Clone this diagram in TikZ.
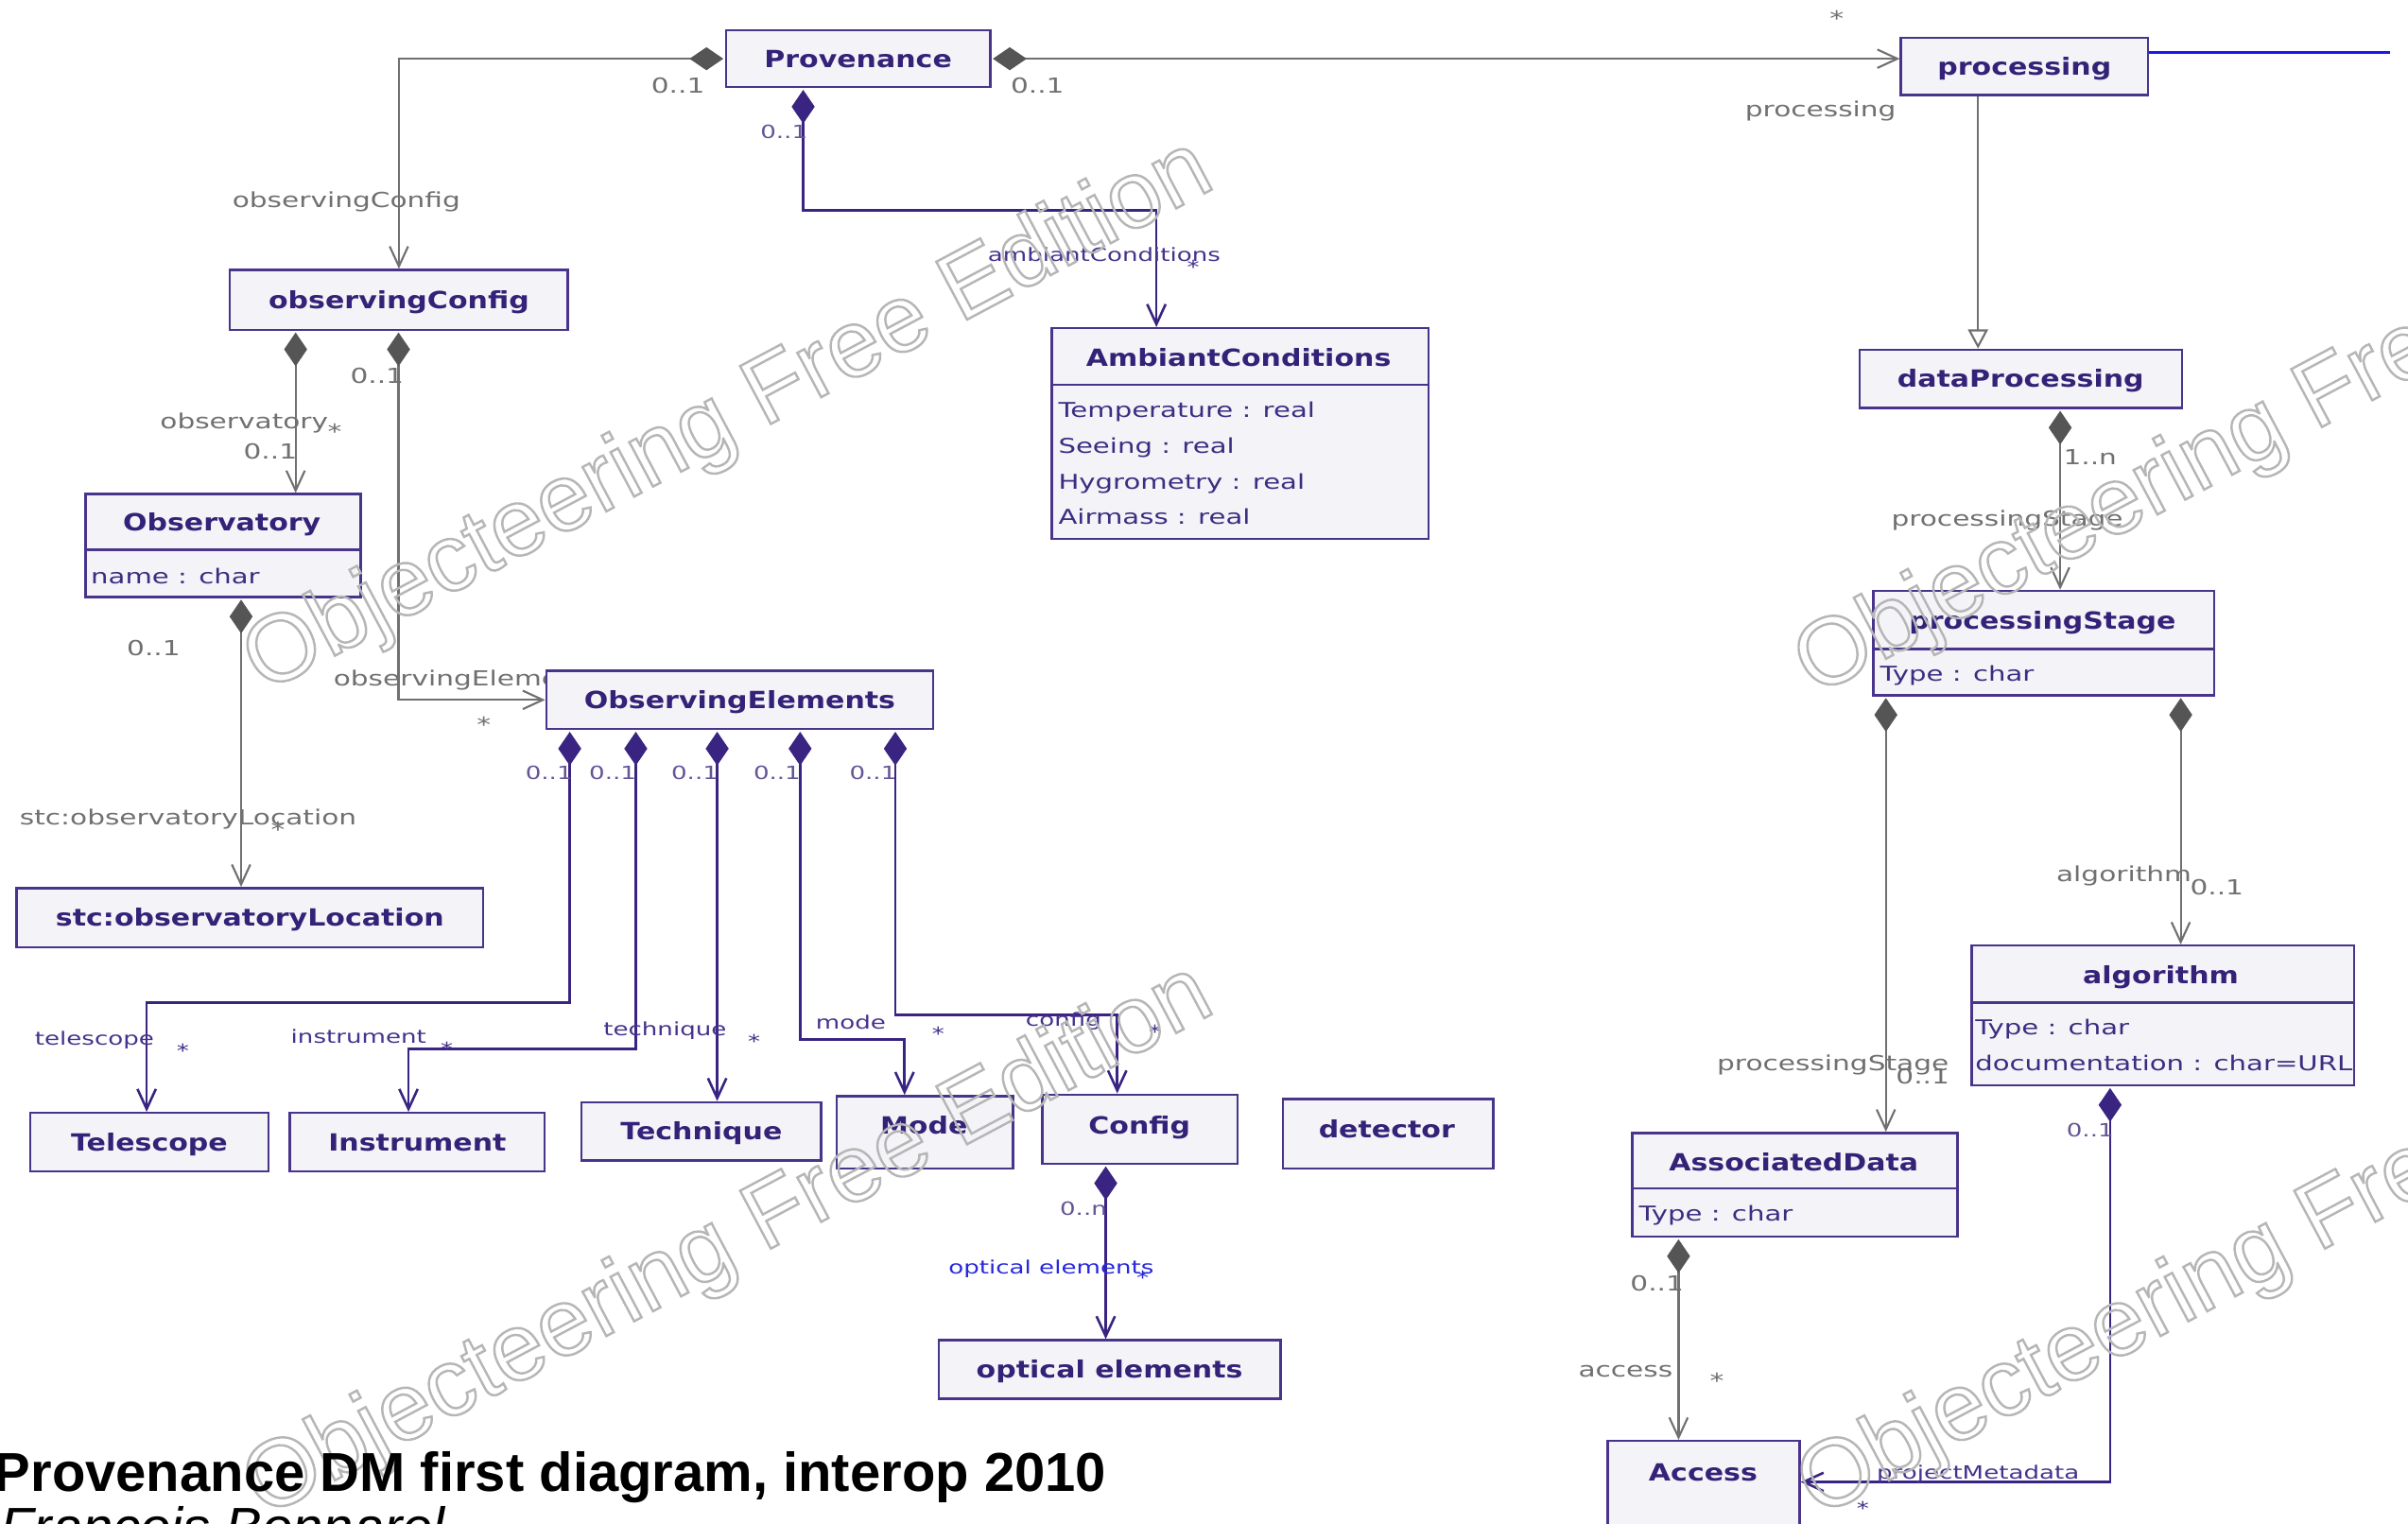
\documentclass[tikz,border=0pt]{standalone}
\usepackage{fontspec}
\usetikzlibrary{arrows.meta}
\setmainfont{DejaVu Sans}
\newfontfamily\umlwide[FakeStretch=1.2]{DejaVu Sans}
\newfontfamily\umlwider[FakeStretch=1.35]{DejaVu Sans}
\newfontfamily\capfont{Liberation Sans}

\definecolor{boxborder}{RGB}{72,52,138}
\definecolor{boxfill}{RGB}{244,243,247}
\definecolor{titletext}{RGB}{52,34,120}
\definecolor{attrtext}{RGB}{60,45,130}
\definecolor{grayline}{RGB}{112,112,112}
\definecolor{graydiamond}{RGB}{85,85,85}
\definecolor{graylabel}{RGB}{112,112,112}
\definecolor{purpleline}{RGB}{58,36,130}
\definecolor{purplelabel}{RGB}{70,50,140}
\definecolor{purplemult}{RGB}{100,85,150}
\definecolor{bluelabel}{RGB}{40,40,220}
\definecolor{blueline}{RGB}{25,25,235}
\definecolor{stampgray}{RGB}{182,182,182}

% outlined (stroked, unfilled) glyphs for the edition stamp
\newcommand\outlinetext[1]{\special{pdf:literal direct 1 Tr 1.5 w}#1\special{pdf:literal direct 0 Tr}}

\pgfdeclarelayer{bg}
\pgfdeclarelayer{links}
\pgfdeclarelayer{top}
\pgfsetlayers{bg,links,main,top}

\begin{document}
\begin{tikzpicture}[x=1pt,y=-1pt,
  box/.style={draw=boxborder, fill=boxfill, line width=1.5pt, inner sep=0pt, anchor=north west},
  ttl/.style={text=titletext, font=\umlwide\bfseries\fontsize{15.4}{18}\selectfont, inner sep=0pt, text height=11.2pt, text depth=0pt},
  attr/.style={text=attrtext, font=\umlwider\fontsize{13.3}{16}\selectfont, inner sep=0pt, anchor=west, text height=9.7pt, text depth=0pt},
  sepline/.style={draw=boxborder, line width=1.5pt},
  glab/.style={text=graylabel, font=\umlwider\fontsize{13.5}{16}\selectfont, inner sep=0pt, text height=9.8pt, text depth=0pt},
  plab/.style={text=purplelabel, font=\umlwider\fontsize{11.9}{14}\selectfont, inner sep=0pt, text height=8.7pt, text depth=0pt},
  pmult/.style={plab, text=purplemult},
  blab/.style={plab, text=bluelabel},
  gcomp/.style={draw=grayline, line width=1.3pt, shorten <=1pt,
    {Diamond[length=22pt,width=15pt,color=graydiamond,fill=graydiamond]}-{Straight Barb[length=13pt,width=12pt]}},
  pcomp/.style={draw=purpleline, line width=1.6pt, shorten <=1pt,
    {Diamond[length=22pt,width=15pt,color=purpleline,fill=purpleline]}-{Straight Barb[length=13pt,width=12pt]}},
  gen/.style={draw=grayline, line width=1.3pt, -{Triangle[open,length=12.5pt,width=13pt,fill=white]}},
  wm/.style={font=\capfont\fontsize{62}{70}\selectfont, text=stampgray, inner sep=0pt, anchor=base west, rotate=28}
]
\useasboundingbox (0,0) rectangle (1568,992);
\begin{pgfonlayer}{bg}
  \fill[white] (0,0) rectangle (1568,992);
\end{pgfonlayer}

% ---------- classes ----------
\node[box, minimum width=172pt, minimum height=37pt] (prov) at (472,19) {};
\node[ttl] (prov-t) at (prov.center) {Provenance};

\node[box, minimum width=161pt, minimum height=37pt] (proc) at (1237,24) {};
\node[ttl] (proc-t) at (proc.center) {processing};

\node[box, minimum width=220pt, minimum height=39pt] (obsconf) at (149,175) {};
\node[ttl] (obsconf-t) at (obsconf.center) {observingConfig};

\node[box, minimum width=245.5pt, minimum height=137pt] (ambiant) at (684,213) {};
\draw[sepline] (ambiant.west |- 0,250.7) -- (ambiant.east |- 0,250.7);
\node[ttl] (ambiant-t) at (806.5,233) {AmbiantConditions};
\node[attr] (ambiant-a1) at (689,266.7) {Temperature : real};
\node[attr] (ambiant-a2) at (689,290.4) {Seeing : real};
\node[attr] (ambiant-a3) at (689,313.5) {Hygrometry : real};
\node[attr] (ambiant-a4) at (689,336.5) {Airmass : real};

\node[box, minimum width=210pt, minimum height=38pt] (dataproc) at (1210,227) {};
\node[ttl] (dataproc-t) at (dataproc.center) {dataProcessing};

\node[box, minimum width=179pt, minimum height=67pt] (observatory) at (55,321) {};
\draw[sepline] (observatory.west |- 0,358) -- (observatory.east |- 0,358);
\node[ttl] (observatory-t) at (144.5,340) {Observatory};
\node[attr] (observatory-a1) at (59,375) {name : char};

\node[box, minimum width=222pt, minimum height=68pt] (pstage) at (1219,384) {};
\draw[sepline] (pstage.west |- 0,422.5) -- (pstage.east |- 0,422.5);
\node[ttl] (pstage-t) at (1330,404) {processingStage};
\node[attr] (pstage-a1) at (1224,438.5) {Type : char};

\node[box, minimum width=252pt, minimum height=38pt] (obselem) at (355,436) {};
\node[ttl] (obselem-t) at (obselem.center) {ObservingElements};

\node[box, minimum width=304pt, minimum height=38.5pt] (stcloc) at (10,577.5) {};
\node[ttl] (stcloc-t) at (stcloc.center) {stc:observatoryLocation};

\node[box, minimum width=249pt, minimum height=91pt] (algo) at (1283,615) {};
\draw[sepline] (algo.west |- 0,653) -- (algo.east |- 0,653);
\node[ttl] (algo-t) at (1407,635) {algorithm};
\node[attr] (algo-a1) at (1286,669) {Type : char};
\node[attr] (algo-a2) at (1286,692.6) {documentation : char=URL};

\node[box, minimum width=155pt, minimum height=38pt] (telescope) at (19,724) {};
\node[ttl] (telescope-t) at (telescope.center) {Telescope};

\node[box, minimum width=166pt, minimum height=38pt] (instrument) at (188,724) {};
\node[ttl] (instrument-t) at (instrument.center) {Instrument};

\node[box, minimum width=156pt, minimum height=38pt] (technique) at (378,717) {};
\node[ttl] (technique-t) at (technique.center) {Technique};

\node[box, minimum width=115pt, minimum height=47pt] (mode) at (544,713) {};
\node[ttl] (mode-t) at (601.6,733) {Mode};

\node[box, minimum width=127pt, minimum height=45pt] (config) at (678,712) {};
\node[ttl] (config-t) at (742,733) {Config};

\node[box, minimum width=137pt, minimum height=45pt] (detector) at (834.5,715) {};
\node[ttl] (detector-t) at (903,735.6) {detector};

\node[box, minimum width=222.5pt, minimum height=38pt] (optel) at (610.5,872) {};
\node[ttl] (optel-t) at (optel.center) {optical elements};

\node[box, minimum width=212pt, minimum height=67.5pt] (assoc) at (1062,737) {};
\draw[sepline] (assoc.west |- 0,774) -- (assoc.east |- 0,774);
\node[ttl] (assoc-t) at (1168,757) {AssociatedData};
\node[attr] (assoc-a1) at (1067,790) {Type : char};

\node[box, minimum width=125pt, minimum height=80pt] (access) at (1046,937.6) {};
\node[ttl] (access-t) at (1109,958.5) {Access};

\coordinate (procout) at (1556,34);

% ---------- associations ----------
\begin{pgfonlayer}{links}
  \draw[gcomp] (prov.west) -| (obsconf.north);
  \draw[gcomp] (prov.east) -- (prov.east -| proc.west);
  \draw[pcomp] (prov.south -| 523,0) -- (523,137) -| (ambiant.north -| 753,0);
  \draw[gen] (proc.south -| 1288,0) -- (dataproc.north -| 1288,0);
  \draw[gcomp] (dataproc.south -| 1341.5,0) -- (pstage.north -| 1341.5,0);
  \draw[gcomp] (obsconf.south -| 192.5,0) -- (observatory.north -| 192.5,0);
  \draw[gcomp] (obsconf.south -| 259.5,0) |- (obselem.west);
  \draw[gcomp] (observatory.south -| 157,0) -- (stcloc.north -| 157,0);
  \draw[pcomp] (obselem.south -| 371,0) -- (371,653) -| (telescope.north -| 95.5,0);
  \draw[pcomp] (obselem.south -| 414,0) -- (414,683) -| (instrument.north -| 266,0);
  \draw[pcomp] (obselem.south -| 467,0) -- (technique.north -| 467,0);
  \draw[pcomp] (obselem.south -| 521,0) -- (521,677) -| (mode.north -| 589,0);
  \draw[pcomp] (obselem.south -| 583,0) -- (583,661) -| (config.north -| 727.5,0);
  \draw[pcomp] (config.south -| 720,0) -- (optel.north -| 720,0);
  \draw[gcomp] (pstage.south -| 1228,0) -- (assoc.north -| 1228,0);
  \draw[gcomp] (pstage.south -| 1420,0) -- (algo.north -| 1420,0);
  \draw[gcomp] (assoc.south -| 1093,0) -- (access.north -| 1093,0);
  \draw[pcomp] (algo.south -| 1374,0) |- (access.east |- 0,965);
  \draw[blueline, line width=1.7pt] (proc.east |- procout) -- (procout);

  % role names and multiplicities
  \node[glab] (gl1) at (225.5,130) {observingConfig};
  \node[glab] (gm1) at (441.5,56) {0..1};
  \node[glab] (gm2) at (675.5,56) {0..1};
  \node[glab] (gs1) at (1196,12) {*};
  \node[glab] (gl2) at (1185.5,71) {processing};
  \node[glab] (gm3) at (245.5,245) {0..1};
  \node[glab] (gl3) at (159,274) {observatory};
  \node[glab] (gs2) at (218,281) {*};
  \node[glab] (gm4) at (176,294) {0..1};
  \node[glab] (gm5) at (1361,297.5) {1..n};
  \node[glab] (gl4) at (1307,338) {processingStage};
  \node[glab] (gm6) at (100,422) {0..1};
  \node[glab, anchor=west] (gl5) at (217,442) {observingElements};
  \node[glab] (gs3) at (315,472) {*};
  \node[glab] (gl6) at (122.5,532) {stc:observatoryLocation};
  \node[glab] (gs4) at (181,540) {*};
  \node[glab] (gl7) at (1383,569) {algorithm};
  \node[glab] (gm7) at (1443.5,578) {0..1};
  \node[glab] (gl8) at (1193.5,692) {processingStage};
  \node[glab] (gm8) at (1252,701) {0..1};
  \node[glab] (gm9) at (1079,836) {0..1};
  \node[glab] (gl9) at (1058.5,892) {access};
  \node[glab] (gs5) at (1118,899) {*};

  \node[pmult] (pm1) at (510.5,86) {0..1};
  \node[plab] (pl1) at (719,166) {ambiantConditions};
  \node[plab] (ps1) at (777,174) {*};
  \node[pmult] (pm2) at (357.5,503.5) {0..1};
  \node[pmult] (pm3) at (399,503.5) {0..1};
  \node[pmult] (pm4) at (452.5,503.5) {0..1};
  \node[pmult] (pm5) at (506,503.5) {0..1};
  \node[pmult] (pm6) at (568.5,503.5) {0..1};
  \node[plab] (pl2) at (61.5,676) {telescope};
  \node[plab] (ps2) at (119,684) {*};
  \node[plab] (pl3) at (233.5,675) {instrument};
  \node[plab] (ps3) at (291,683) {*};
  \node[plab] (pl4) at (433,670) {technique};
  \node[plab] (ps4) at (491,678) {*};
  \node[plab] (pl5) at (554,666) {mode};
  \node[plab] (ps5) at (611,673) {*};
  \node[plab] (pl6) at (692.5,664) {config};
  \node[plab] (ps6) at (752,672) {*};
  \node[pmult] (pm7) at (705.5,787) {0..n};
  \node[blab] (bl1) at (684.5,825) {optical elements};
  \node[blab] (bs1) at (744,832) {*};
  \node[pmult] (pm8) at (1361,736) {0..1};
  \node[plab] (pl7) at (1288,959) {projectMetadata};
  \node[plab] (ps7) at (1213,982) {*};
\end{pgfonlayer}

% ---------- edition stamp and caption ----------
\begin{pgfonlayer}{top}
  \node[wm] (wm1) at (171.8,451.6) {\outlinetext{Objecteering Free Edition}};
  \node[wm] (wm2) at (171.8,988.6) {\outlinetext{Objecteering Free Edition}};
  \node[wm] (wm3) at (1181.8,453.6) {\outlinetext{Objecteering Free Edition}};
  \node[wm] (wm4) at (1183.8,988.6) {\outlinetext{Objecteering Free Edition}};
  \node[anchor=base west, inner sep=0pt, font=\capfont\bfseries\fontsize{35.7}{40}\selectfont] (cap1) at (-4,971) {Provenance DM first diagram, interop 2010};
  \node[anchor=base west, inner sep=0pt, font=\capfont\itshape\fontsize{35.7}{40}\selectfont] (cap2) at (0,1007) {François Bonnarel};
\end{pgfonlayer}
\end{tikzpicture}
\end{document}
